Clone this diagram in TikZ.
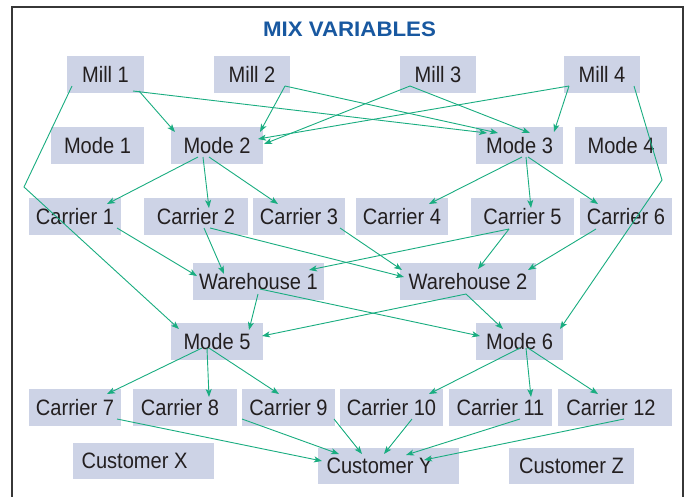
\documentclass[tikz,border=0pt]{standalone}
\usepackage{fontspec}
\setmainfont{Liberation Sans}[FakeStretch=0.9]
\newfontfamily\titlefont{Liberation Sans}[FakeStretch=1.06]
\usetikzlibrary{arrows.meta}
\definecolor{boxfill}{RGB}{205,211,230}
\definecolor{edgegreen}{RGB}{25,173,128}
\definecolor{titleblue}{RGB}{24,88,160}
\definecolor{framegray}{RGB}{55,55,55}
\definecolor{textdark}{RGB}{35,31,32}
\begin{document}
\begin{tikzpicture}[x=1pt,y=-1pt,
  box/.style={fill=boxfill, inner sep=0pt, minimum height=37pt, text=textdark, font=\fontsize{22.3}{24}\selectfont},
  arr/.style={draw=edgegreen, line width=0.9pt, -{Stealth[length=8pt,width=6pt,inset=2pt]}}]
\useasboundingbox (0,0) rectangle (685,496);
\clip (0,0) rectangle (685,496);
\fill[white] (0,0) rectangle (685,496);
\draw[framegray, line width=2pt] (12,510) -- (12,7) -- (683,7) -- (683,510);
\node[font=\titlefont\bfseries\fontsize{21}{23}\selectfont, text=titleblue] (title) at (349.5,28.8) {MIX VARIABLES};
% mills
\node[box, minimum width=77pt] (mill1) at (105.5,74.5) {Mill 1};
\node[box, minimum width=76pt] (mill2) at (252,74.5) {Mill 2};
\node[box, minimum width=76pt] (mill3) at (438,74.5) {Mill 3};
\node[box, minimum width=76pt] (mill4) at (602,74.5) {Mill 4};
% modes
\node[box, minimum width=93pt] (mode1) at (97.5,145.5) {Mode 1};
\node[box, minimum width=92pt] (mode2) at (217,145.5) {Mode 2};
\node[box, minimum width=87pt] (mode3) at (519.5,145.5) {Mode 3};
\node[box, minimum width=92pt] (mode4) at (621,145.5) {Mode 4};
% carriers row 1
\node[box, minimum width=92pt] (car1) at (75,216.5) {Carrier 1};
\node[box, minimum width=104pt] (car2) at (196,216.5) {Carrier 2};
\node[box, minimum width=92pt] (car3) at (299,216.5) {Carrier 3};
\node[box, minimum width=92pt] (car4) at (402,216.5) {Carrier 4};
\node[box, minimum width=103pt] (car5) at (522.5,216.5) {Carrier 5};
\node[box, minimum width=92pt] (car6) at (626,216.5) {Carrier 6};
% warehouses
\node[box, minimum width=131pt] (wh1) at (258.5,281.5) {Warehouse 1};
\node[box, minimum width=136pt] (wh2) at (468,281.5) {Warehouse 2};
% modes 5 6
\node[box, minimum width=92pt] (mode5) at (217,341.5) {Mode 5};
\node[box, minimum width=87pt] (mode6) at (519.5,341.5) {Mode 6};
% carriers row 2
\node[box, minimum width=92pt] (car7) at (75,407.5) {Carrier 7};
\node[box, minimum width=104pt] (car8) at (185,407.5) {\hspace*{-10pt}Carrier 8};
\node[box, minimum width=93pt] (car9) at (288.5,407.5) {Carrier 9};
\node[box, minimum width=103pt] (car10) at (391.5,407.5) {Carrier 10};
\node[box, minimum width=103pt] (car11) at (500.5,407.5) {Carrier 11};
\node[box, minimum width=114pt] (car12) at (615,407.5) {\hspace*{-8pt}Carrier 12};
% customers
\node[box, minimum width=141pt, minimum height=36pt] (custX) at (143.5,461) {\hspace*{-18pt}Customer X};
\node[box, minimum width=141pt, minimum height=36pt] (custY) at (388.5,466) {\hspace*{-18pt}Customer Y};
\node[box, minimum width=125pt, minimum height=36pt] (custZ) at (571.5,466) {Customer Z};
% bend points
\coordinate (bendA) at (24,187);
\coordinate (bendB) at (662,180);
% mills to modes
\draw[arr] ([shift={(-33.5,11.5)}]mill1.center) -- (bendA) -- ([shift={(-38,-12.5)}]mode5.center);
\draw[arr] ([shift={(33.5,16.5)}]mill1.center) -- ([shift={(-42,-13.5)}]mode2.center);
\draw[arr] ([shift={(27.5,16.5)}]mill1.center) -- ([shift={(-32.5,-12.5)}]mode3.center);
\draw[arr] ([shift={(33,11.5)}]mill2.center) -- ([shift={(43,-13.5)}]mode2.center);
\draw[arr] ([shift={(33,11.5)}]mill2.center) -- ([shift={(-21.5,-12.5)}]mode3.center);
\draw[arr] ([shift={(-28,11.5)}]mill3.center) -- ([shift={(47,-1.5)}]mode2.center);
\draw[arr] ([shift={(-28,11.5)}]mill3.center) -- ([shift={(10.5,-12.5)}]mode3.center);
\draw[arr] ([shift={(-33,11.5)}]mill4.center) -- ([shift={(41,-6.5)}]mode2.center);
\draw[arr] ([shift={(-33,11.5)}]mill4.center) -- ([shift={(34.5,-13.5)}]mode3.center);
\draw[arr] ([shift={(32,11.5)}]mill4.center) -- (bendB) -- ([shift={(40.5,-12.5)}]mode6.center);
% modes to carriers (row 1)
\draw[arr] ([shift={(-19,11.5)}]mode2.center) -- ([shift={(32,-12.5)}]car1.center);
\draw[arr] ([shift={(-14,11.5)}]mode2.center) -- ([shift={(13,-8.5)}]car2.center);
\draw[arr] ([shift={(-8,11.5)}]mode2.center) -- ([shift={(-21,-12.5)}]car3.center);
\draw[arr] ([shift={(2.5,11.5)}]mode3.center) -- ([shift={(27,-12.5)}]car4.center);
\draw[arr] ([shift={(6.5,11.5)}]mode3.center) -- ([shift={(8.5,-8.5)}]car5.center);
\draw[arr] ([shift={(8.5,11.5)}]mode3.center) -- ([shift={(-28,-12.5)}]car6.center);
% carriers to warehouses
\draw[arr] ([shift={(42,11.5)}]car1.center) -- ([shift={(-61.5,-5.5)}]wh1.center);
\draw[arr] ([shift={(8,11.5)}]car2.center) -- ([shift={(-34.5,-7.5)}]wh1.center);
\draw[arr] ([shift={(14,11.5)}]car2.center) -- ([shift={(-64,-4.5)}]wh2.center);
\draw[arr] ([shift={(41,11.5)}]car3.center) -- ([shift={(-66,-11.5)}]wh2.center);
\draw[arr] ([shift={(-13.5,12.5)}]car5.center) -- ([shift={(50.5,-11.5)}]wh1.center);
\draw[arr] ([shift={(-13.5,12.5)}]car5.center) -- ([shift={(10,-12.5)}]wh2.center);
\draw[arr] ([shift={(-30,12.5)}]car6.center) -- ([shift={(60,-11.5)}]wh2.center);
% warehouses to modes
\draw[arr] ([shift={(-0.5,12.5)}]wh1.center) -- ([shift={(32,-11.5)}]mode5.center);
\draw[arr] ([shift={(1.5,7.5)}]wh1.center) -- ([shift={(-39.5,-5.5)}]mode6.center);
\draw[arr] ([shift={(-2,12.5)}]wh2.center) -- ([shift={(45,-5.5)}]mode5.center);
\draw[arr] ([shift={(-2,12.5)}]wh2.center) -- ([shift={(-16.5,-12.5)}]mode6.center);
% modes to carriers (row 2)
\draw[arr] ([shift={(-15,6.5)}]mode5.center) -- ([shift={(32,-13.5)}]car7.center);
\draw[arr] ([shift={(-10,6.5)}]mode5.center) -- ([shift={(24,-10.5)}]car8.center);
\draw[arr] ([shift={(-8,6.5)}]mode5.center) -- ([shift={(-9.5,-13.5)}]car9.center);
\draw[arr] ([shift={(0.5,6.5)}]mode6.center) -- ([shift={(37.5,-13.5)}]car10.center);
\draw[arr] ([shift={(6.5,6.5)}]mode6.center) -- ([shift={(30.5,-10.5)}]car11.center);
\draw[arr] ([shift={(8.5,6.5)}]mode6.center) -- ([shift={(-17,-13.5)}]car12.center);
% carriers to customer Y
\draw[arr] ([shift={(42,11.5)}]car7.center) -- ([shift={(-66.5,-5)}]custY.center);
\draw[arr] ([shift={(-46.5,11.5)}]car9.center) -- ([shift={(-49.5,-12)}]custY.center);
\draw[arr] ([shift={(45.5,11.5)}]car9.center) -- ([shift={(-26.5,-12)}]custY.center);
\draw[arr] ([shift={(20.5,11.5)}]car10.center) -- ([shift={(-4.5,-12)}]custY.center);
\draw[arr] ([shift={(19.5,11.5)}]car11.center) -- ([shift={(17.5,-11)}]custY.center);
\draw[arr] ([shift={(9,11.5)}]car12.center) -- ([shift={(35.5,-6)}]custY.center);
\end{tikzpicture}
\end{document}
